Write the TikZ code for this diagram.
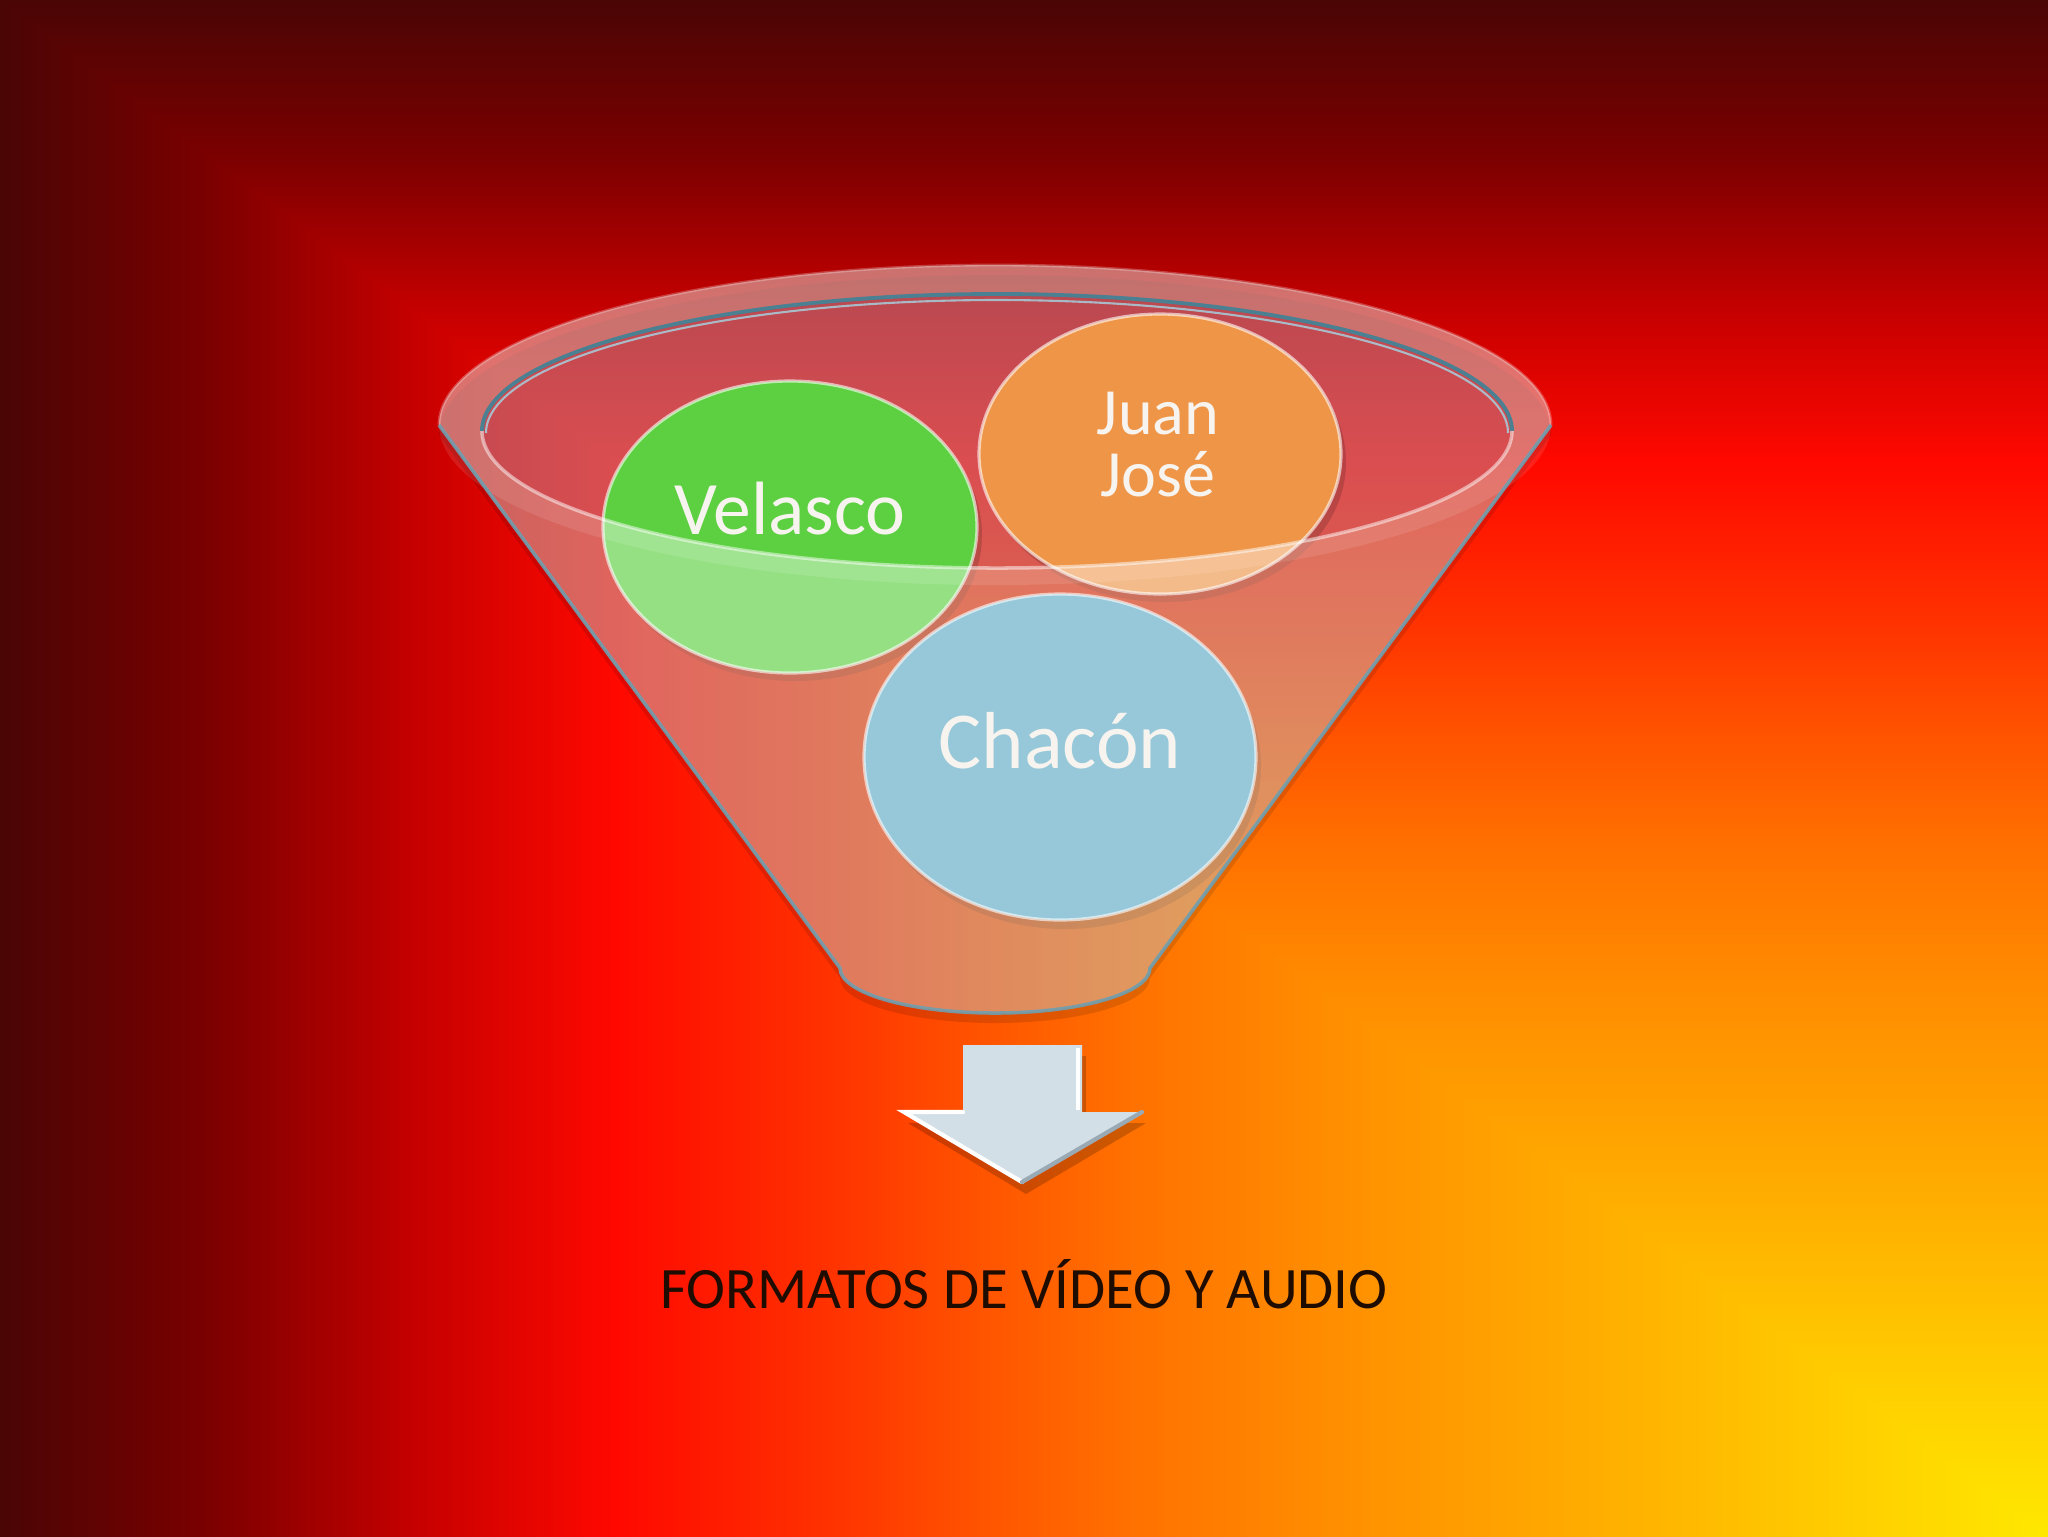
\documentclass[tikz,border=0pt]{standalone}
\usepackage{fontspec}
\setmainfont{Carlito}

\definecolor{gA}{HTML}{FFE800}
\definecolor{gB}{HTML}{FFC000}
\definecolor{gC}{HTML}{FFA600}
\definecolor{gD}{HTML}{FF8E00}
\definecolor{gE}{HTML}{FF7000}
\definecolor{gF}{HTML}{FF5400}
\definecolor{gG}{HTML}{FF3000}
\definecolor{gH}{HTML}{FF0800}
\definecolor{gI}{HTML}{C40000}
\definecolor{gJ}{HTML}{7A0000}
\definecolor{gK}{HTML}{4A0505}
\definecolor{backtint}{RGB}{110,60,30}
\definecolor{cavity}{RGB}{240,190,215}
\definecolor{tealline}{HTML}{4A8092}
\definecolor{cyanline}{HTML}{A4D6E4}
\definecolor{edgeline}{HTML}{6F9FB0}
\definecolor{cgreen}{HTML}{5CD040}
\definecolor{corange}{HTML}{EE9548}
\definecolor{cblue}{HTML}{5BA9C5}
\definecolor{labeltext}{HTML}{F7F3EF}
\definecolor{arrowface}{HTML}{D3DFE6}
\definecolor{arrowdark}{HTML}{9AAAB4}
\definecolor{captiontext}{HTML}{1E0C00}

% rectangular gradient from the bottom-right corner, built from two halves
\pgfdeclarehorizontalshading{bgh}{100bp}{color(0bp)=(gK); color(25bp)=(gK); color(30bp)=(gJ); color(35bp)=(gI); color(40bp)=(gH); color(45bp)=(gG); color(49bp)=(gF); color(52.5bp)=(gE); color(57.5bp)=(gD); color(62.5bp)=(gC); color(67.5bp)=(gB); color(75bp)=(gA); color(100bp)=(gA)}
\pgfdeclareverticalshading{bgv}{100bp}{color(0bp)=(gA); color(25bp)=(gA); color(32.5bp)=(gB); color(37.5bp)=(gC); color(42.5bp)=(gD); color(47.5bp)=(gE); color(51bp)=(gF); color(55bp)=(gG); color(60bp)=(gH); color(65bp)=(gI); color(70bp)=(gJ); color(75bp)=(gK); color(100bp)=(gK)}

\tikzset{
  bubble/.style={draw=white, draw opacity=0.6, line width=0.9pt},
  bubshadow/.style={fill=black, fill opacity=0.15},
  label/.style={text=labeltext, inner sep=0pt},
  caption/.style={text=captiontext, inner sep=0pt, font=\fontsize{16.7}{20}\selectfont}
}

\def\bodypath{(439,425) -- (840,968) arc[start angle=180,end angle=0,x radius=155,y radius=45] -- (1551,425) arc[start angle=0,end angle=-180,x radius=556,y radius=160] -- cycle}

\begin{document}
\begin{tikzpicture}[x=0.1mm,y=-0.1mm]
\useasboundingbox (0,0) rectangle (2048,1536);

% background
\shade[shading=bgh] (0,0) rectangle (2048,1536);
\begin{scope}
  \clip (-1,-1) -- (2049,-1) -- (2049,1537) -- cycle;
  \shade[shading=bgv] (0,0) rectangle (2048,1536);
\end{scope}

% funnel shadow and back wall
\begin{scope}[shift={(0,10)}]
  \fill[black, fill opacity=0.12] \bodypath;
\end{scope}
\fill[backtint, fill opacity=0.15] \bodypath;
% cavity
\fill[cavity, fill opacity=0.36] (997,431) ellipse[x radius=515, y radius=137];

% bubbles
\fill[bubshadow] (795,535) ellipse[x radius=187, y radius=146];
\fill[bubshadow] (1165,462) ellipse[x radius=181, y radius=140];
\fill[bubshadow] (1065,766) ellipse[x radius=196, y radius=163];
\fill[cgreen] (790,527) ellipse[x radius=187, y radius=146];
\fill[corange] (1160,454) ellipse[x radius=181, y radius=140];
\fill[cblue] (1060,757) ellipse[x radius=196, y radius=163];
\draw[bubble] (790,527) ellipse[x radius=187, y radius=146];
\draw[bubble] (1160,454) ellipse[x radius=181, y radius=140];
\draw[bubble] (1060,757) ellipse[x radius=196, y radius=163];

% front glass
\fill[white, fill opacity=0.36, even odd rule] \bodypath (997,431) ellipse[x radius=515, y radius=137];
% rim band
\fill[white, fill opacity=0.10, even odd rule] (995,425) ellipse[x radius=556, y radius=160] (997,431) ellipse[x radius=515, y radius=137];
\draw[white, draw opacity=0.25, line width=0.8pt] (439,425) arc[start angle=180,end angle=360,x radius=556,y radius=160];

% inner rim lines
\draw[tealline, line width=1.1pt] (482,431) arc[start angle=180,end angle=360,x radius=515,y radius=137];
\draw[cyanline, draw opacity=0.8, line width=0.6pt] (486,433) arc[start angle=180,end angle=360,x radius=511,y radius=133];
\draw[white, draw opacity=0.5, line width=1.0pt] (1512,431) arc[start angle=0,end angle=180,x radius=515,y radius=137];

% funnel side and bottom edges
\draw[edgeline, draw opacity=0.9, line width=1.0pt, line join=round] (439,425) -- (840,968) arc[start angle=180,end angle=0,x radius=155,y radius=45] -- (1551,425);

% labels
\node[label, anchor=base, font=\fontsize{21.5}{25}\selectfont] (velasco) at (790,534) {Velasco};
\node[label, anchor=base, font=\fontsize{18.8}{22}\selectfont] (juan) at (1158,434) {Juan};
\node[label, anchor=base, font=\fontsize{18.8}{22}\selectfont] (jose) at (1158,496) {José};
\node[label, anchor=base, font=\fontsize{23}{27}\selectfont] (chacon) at (1060,768) {Chacón};

% arrow
\fill[black, fill opacity=0.2] (967,1056) -- (1086,1056) -- (1086,1123) -- (1146,1123) -- (1026,1194) -- (908,1123) -- (967,1123) -- cycle;
\fill[arrowface] (963,1045) -- (1082,1045) -- (1082,1112) -- (1142,1112) -- (1022,1182) -- (904,1112) -- (963,1112) -- cycle;
\draw[white, line width=1.2pt, line cap=round] (963,1112) -- (904,1112) -- (1022,1182);
\draw[arrowdark, line width=1.2pt, line cap=round] (1022,1182) -- (1142,1112);
\draw[white, line width=0.9pt] (1078,1048) -- (1078,1110);

% caption
\node[caption, anchor=base] (caption) at (1024,1308) {FORMATOS DE VÍDEO Y AUDIO};
\end{tikzpicture}
\end{document}
